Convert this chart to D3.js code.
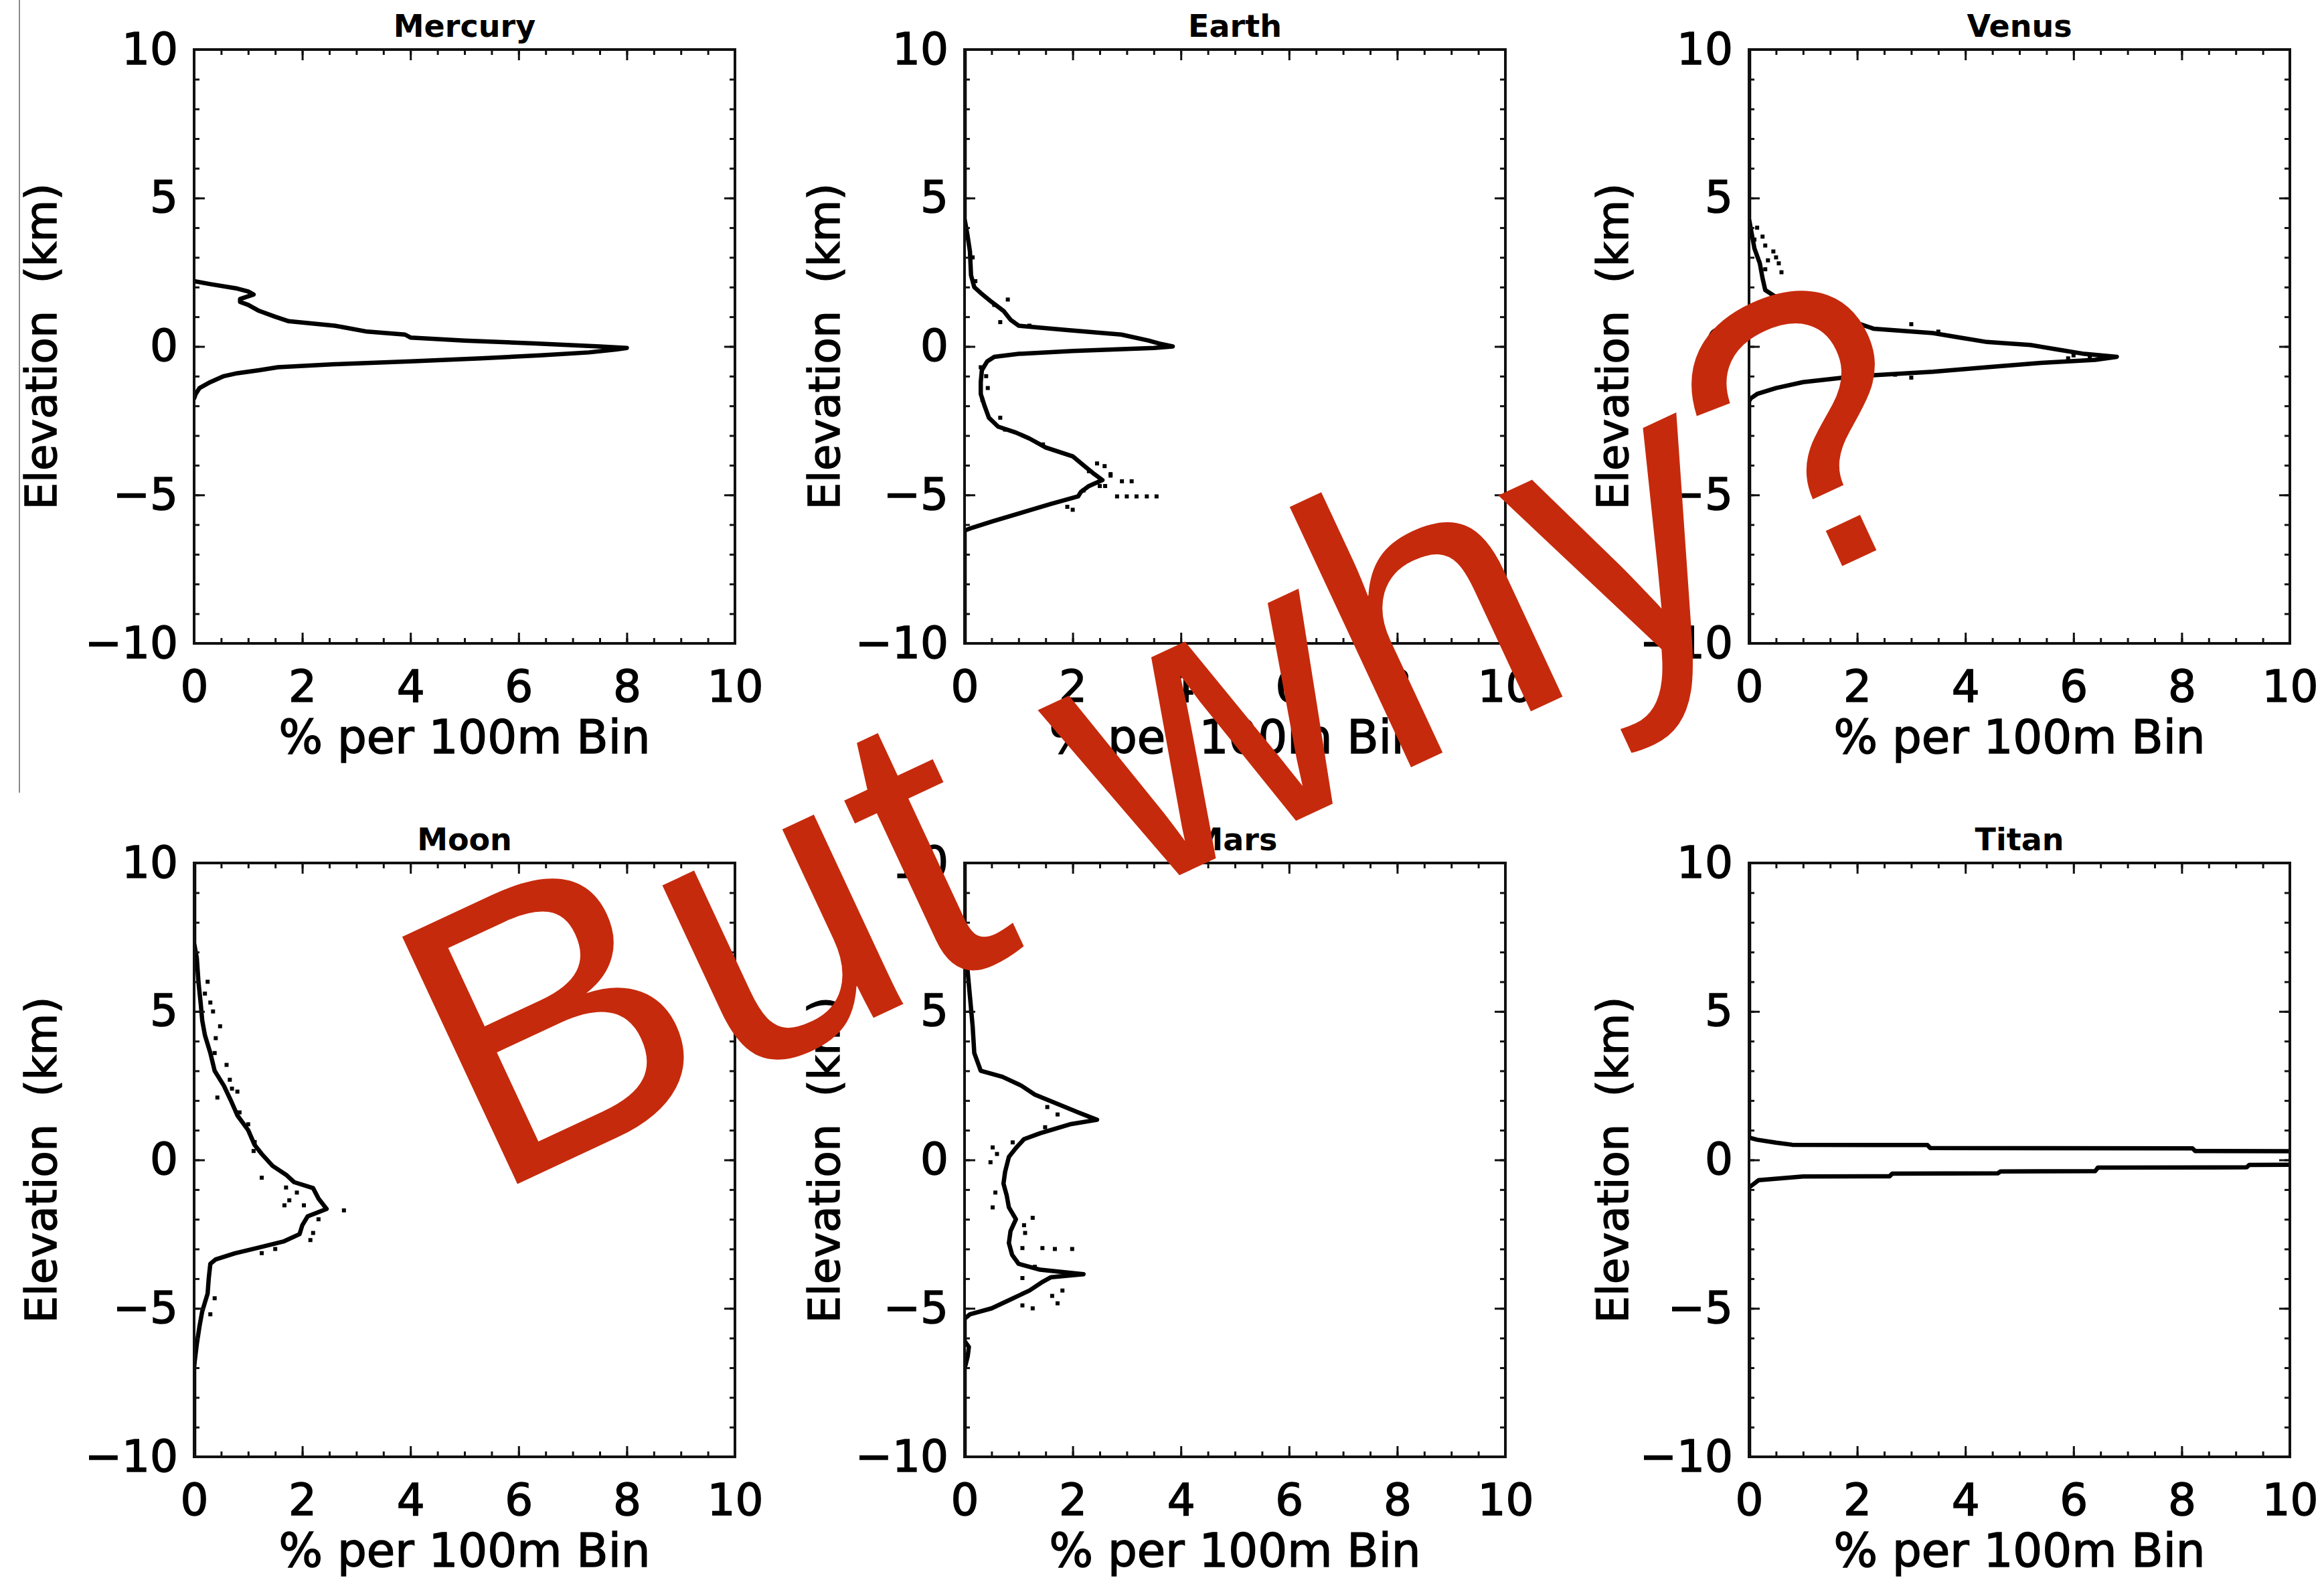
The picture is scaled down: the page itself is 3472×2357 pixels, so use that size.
<!DOCTYPE html>
<html><head><meta charset="utf-8">
<script src="https://cdn.jsdelivr.net/npm/d3@7"></script>
<style>html,body{margin:0;padding:0;background:#fff}svg{display:block}</style>
</head><body>
<script>
// ---------- DATA ----------
const panelNames = ["Mercury", "Earth", "Venus", "Moon", "Mars", "Titan"];
const xTickValues = [0, 2, 4, 6, 8, 10];
const yTickValues = [-10, -5, 0, 5, 10];
const xTitle = "% per 100m Bin";
const yTitle = "Elevation  (km)";
const overlayText = "But why?";

const mercuryElev = [2.2, 2.1, 1.95, 1.85, 1.75, 1.6, 1.5, 1.4, 1.2, 1.0, 0.85, 0.7, 0.5, 0.4, 0.3, 0.2, 0.1, 0.0, -0.05, -0.1, -0.2, -0.3, -0.4, -0.5, -0.6, -0.7, -0.8, -0.9, -1.0, -1.2, -1.4, -1.6, -1.75];
const mercuryPct  = [0, 0.3, 0.8, 1.0, 1.1, 0.85, 0.85, 1.0, 1.2, 1.5, 1.75, 2.6, 3.2, 3.9, 4.0, 5.0, 6.3, 7.5, 8.0, 7.8, 7.3, 6.4, 5.3, 4.0, 2.6, 1.55, 1.2, 0.8, 0.55, 0.3, 0.1, 0.03, 0];

const earthElev = [10, 4.3, 3.8, 3.2, 2.4, 2.0, 1.8, 1.5, 1.2, 0.9, 0.7, 0.55, 0.4, 0.2, 0.1, 0.0, -0.05, -0.15, -0.25, -0.35, -0.5, -0.8, -1.2, -1.6, -2.0, -2.4, -2.7, -2.9, -3.1, -3.4, -3.7, -4.0, -4.3, -4.5, -4.7, -4.9, -5.05, -5.3, -5.6, -5.9, -6.1, -6.2, -10];
const earthPct  = [0, 0, 0.05, 0.1, 0.12, 0.18, 0.3, 0.5, 0.72, 0.85, 1.0, 1.9, 2.9, 3.4, 3.6, 3.85, 3.5, 2.0, 1.0, 0.55, 0.42, 0.32, 0.3, 0.3, 0.37, 0.45, 0.62, 0.95, 1.2, 1.5, 2.0, 2.2, 2.4, 2.55, 2.3, 2.15, 2.1, 1.6, 1.05, 0.5, 0.15, 0, 0];
const earthDotElev = [1.58, 1.4, 0.82, 0.7, -0.7, -1.0, -1.4, -1.8, -2.4, -2.8, -3.3, -3.94, -4.03, -4.2, -4.35, -4.54, -4.54, -4.7, -4.85, -5.05, -5.05, -5.05, -5.05, -5.05, -5.4, -5.5, -4.3, -4.7, 3.0, 2.2];
const earthDotPct  = [0.8, 0.55, 0.66, 1.2, 0.3, 0.4, 0.43, 0.33, 0.66, 0.75, 1.45, 2.45, 2.59, 2.3, 2.7, 2.91, 3.09, 2.5, 2.2, 2.82, 3.0, 3.18, 3.37, 3.55, 1.9, 2.0, 2.7, 2.6, 0.15, 0.2];

const venusElev = [10, 4.3, 3.8, 3.3, 2.8, 2.3, 1.9, 1.6, 1.35, 1.1, 0.85, 0.6, 0.45, 0.3, 0.15, 0.05, -0.1, -0.25, -0.35, -0.45, -0.55, -0.7, -0.85, -1.0, -1.2, -1.4, -1.6, -1.75, -1.85, -10];
const venusPct  = [0, 0, 0.05, 0.1, 0.2, 0.25, 0.3, 0.55, 0.9, 1.3, 1.9, 2.3, 3.4, 3.9, 4.4, 5.2, 5.7, 6.2, 6.8, 6.4, 5.4, 4.4, 3.4, 2.0, 1.0, 0.5, 0.15, 0.03, 0, 0];
const venusDotElev = [4.0, 3.7, 3.4, 3.2, 3.0, 2.8, 2.6, 2.5, 3.6, 2.9, 0.75, 0.5, -0.3, -0.35, -0.4, -0.95, -1.05];
const venusDotPct  = [0.15, 0.25, 0.3, 0.45, 0.5, 0.55, 0.3, 0.6, 0.1, 0.35, 3.0, 3.5, 6.0, 6.3, 5.9, 2.7, 3.0];

const moonElev = [10, 7.3, 6.8, 6.0, 5.3, 4.7, 4.2, 3.6, 3.0, 2.5, 2.0, 1.5, 1.0, 0.5, 0.2, -0.2, -0.5, -0.75, -0.95, -1.3, -1.65, -1.9, -2.2, -2.5, -2.75, -2.95, -3.15, -3.35, -3.5, -4.0, -4.5, -4.8, -5.1, -5.6, -6.2, -6.8, -7.0, -10];
const moonPct  = [0, 0, 0.05, 0.08, 0.12, 0.15, 0.2, 0.3, 0.38, 0.55, 0.68, 0.8, 1.0, 1.12, 1.25, 1.45, 1.7, 1.85, 2.2, 2.3, 2.45, 2.1, 2.0, 1.95, 1.65, 1.2, 0.75, 0.4, 0.3, 0.27, 0.25, 0.2, 0.15, 0.1, 0.05, 0.01, 0, 0];
const moonDotElev = [6.0, 5.6, 5.0, 4.5, 4.1, 3.6, 3.2, 2.7, 2.4, 2.1, 1.6, 1.2, 0.6, 0.3, -0.6, -0.93, -1.1, -1.36, -1.53, -1.53, -1.7, -2.0, -2.46, -2.7, -3.14, -3.0, -4.66, -5.2, 5.3, 2.3];
const moonDotPct  = [0.25, 0.2, 0.35, 0.48, 0.4, 0.38, 0.6, 0.66, 0.7, 0.43, 0.84, 1.0, 1.12, 1.1, 1.25, 1.7, 1.9, 1.76, 1.67, 2.03, 2.77, 2.3, 2.2, 2.15, 1.25, 1.5, 0.38, 0.3, 0.3, 0.8];

const marsElev = [10, 7.5, 6.5, 5.5, 4.5, 3.6, 3.0, 2.8, 2.5, 2.2, 1.9, 1.6, 1.35, 1.2, 0.9, 0.7, 0.4, 0.1, -0.4, -0.8, -1.2, -1.6, -2.0, -2.4, -2.8, -3.2, -3.5, -3.7, -3.85, -3.95, -4.1, -4.4, -4.7, -5.0, -5.2, -5.35, -6.1, -6.3, -6.6, -6.9, -7.0, -10];
const marsPct  = [0, 0, 0.05, 0.1, 0.15, 0.18, 0.3, 0.7, 1.05, 1.3, 1.7, 2.1, 2.45, 1.95, 1.4, 1.1, 0.95, 0.82, 0.75, 0.72, 0.78, 0.82, 0.95, 0.85, 0.82, 0.88, 1.0, 1.4, 2.2, 1.6, 1.45, 1.2, 0.85, 0.5, 0.1, 0, 0, 0.08, 0.06, 0.02, 0, 0];
const marsDotElev = [0.42, -0.08, -1.1, -1.6, -1.95, -2.46, -2.97, -2.97, -3.0, -3.0, -3.98, -4.4, -4.58, -4.83, -5.0, -4.9, 1.78, 1.53, 1.1, 0.59, 5.0, 0.2, -2.2, -3.6];
const marsDotPct  = [0.52, 0.48, 0.57, 0.52, 1.26, 1.12, 1.07, 1.44, 1.67, 1.99, 1.07, 1.81, 1.62, 1.72, 1.26, 1.07, 1.53, 1.72, 1.49, 0.89, 0.12, 0.6, 1.1, 1.3];

const titanElev = [10, 0.75, 0.68, 0.58, 0.51, 0.5, 0.4, 0.39, 0.3, 0.29, 0.15, 0.0, -0.1, -0.16, -0.17, -0.25, -0.26, -0.38, -0.39, -0.45, -0.46, -0.55, -0.56, -0.68, -0.93, -10];
const titanPct  = [0, 0, 0.15, 0.5, 0.8, 3.3, 3.35, 8.2, 8.25, 10.5, 18, 22, 16, 10.5, 9.25, 9.2, 6.45, 6.4, 4.65, 4.6, 2.65, 2.6, 1.0, 0.18, 0, 0];

// ---------- LAYOUT ----------
const W = 3472, H = 2357;
const colLeft = [290, 1441, 2613];
const rowTop = [74, 1289];
const pw = 808, ph = 887;
const yTitleX = [60, 1230, 2408];

const series = [
  {elev: mercuryElev, pct: mercuryPct, dE: [], dP: []},
  {elev: earthElev, pct: earthPct, dE: earthDotElev, dP: earthDotPct},
  {elev: venusElev, pct: venusPct, dE: venusDotElev, dP: venusDotPct},
  {elev: moonElev, pct: moonPct, dE: moonDotElev, dP: moonDotPct},
  {elev: marsElev, pct: marsPct, dE: marsDotElev, dP: marsDotPct},
  {elev: titanElev, pct: titanPct, dE: [], dP: []}
];

const svg = d3.select("body").append("svg").attr("width", W).attr("height", H);
svg.append("rect").attr("width", W).attr("height", H).attr("fill", "#fff");

// thin gray vertical line at left
svg.append("line").attr("x1", 29).attr("x2", 29).attr("y1", 0).attr("y2", 1184)
  .attr("stroke", "#8a8a8a").attr("stroke-width", 2);

const font = "'DejaVu Sans', sans-serif";
const labelSize = 66;

panelNames.forEach((name, i) => {
  const col = i % 3, row = Math.floor(i / 3);
  const left = colLeft[col], top = rowTop[row];
  const x = d3.scaleLinear().domain([0, 10]).range([0, pw]);
  const y = d3.scaleLinear().domain([-10, 10]).range([ph, 0]);
  const g = svg.append("g").attr("transform", `translate(${left},${top})`);

  const clipId = "clip" + i;
  g.append("clipPath").attr("id", clipId).append("rect")
    .attr("x", 0).attr("y", 0).attr("width", pw).attr("height", ph);

  const s = series[i];
  const pts = s.elev.map((e, k) => [s.pct[k], e]);
  const line = d3.line().x(d => x(d[0])).y(d => y(d[1]));
  const pg = g.append("g").attr("clip-path", `url(#${clipId})`);
  pg.append("path").attr("d", line(pts)).attr("fill", "none")
    .attr("stroke", "#000").attr("stroke-width", 6.5)
    .attr("stroke-linejoin", "round").attr("stroke-linecap", "round");
  const dots = s.dE.map((e, k) => [s.dP[k], e]);
  pg.selectAll("rect.dot").data(dots).enter().append("rect").attr("class", "dot")
    .attr("x", d => x(d[0]) - 3).attr("y", d => y(d[1]) - 3)
    .attr("width", 6).attr("height", 6).attr("fill", "#000");

  // axes (inward ticks)
  const minorX = d3.range(0, 10.001, 0.5);
  const minorY = d3.range(-10, 10.001, 1);
  const styleAxis = sel => {
    sel.select(".domain").remove();
    sel.selectAll(".tick line").attr("stroke", "#111").attr("stroke-width", 3);
    sel.selectAll("text").attr("font-family", font).attr("font-size", labelSize)
      .attr("fill", "#000").attr("stroke", "#000").attr("stroke-width", 1.5);
  };
  g.append("g").attr("transform", `translate(0,${ph})`)
    .call(d3.axisBottom(x).tickValues(minorX).tickSize(-8).tickFormat("")).call(styleAxis);
  g.append("g").attr("transform", `translate(0,${ph})`)
    .call(d3.axisBottom(x).tickValues(xTickValues).tickSize(-16).tickPadding(40).tickFormat(d3.format("d"))).call(styleAxis);
  g.append("g")
    .call(d3.axisTop(x).tickValues(minorX).tickSize(-8).tickFormat("")).call(styleAxis);
  g.append("g")
    .call(d3.axisTop(x).tickValues(xTickValues).tickSize(-16).tickFormat("")).call(styleAxis);
  g.append("g")
    .call(d3.axisLeft(y).tickValues(minorY).tickSize(-8).tickFormat("")).call(styleAxis);
  g.append("g")
    .call(d3.axisLeft(y).tickValues(yTickValues).tickSize(-16).tickPadding(24).tickFormat(d3.format("d"))).call(styleAxis);
  g.append("g").attr("transform", `translate(${pw},0)`)
    .call(d3.axisRight(y).tickValues(minorY).tickSize(-8).tickFormat("")).call(styleAxis);
  g.append("g").attr("transform", `translate(${pw},0)`)
    .call(d3.axisRight(y).tickValues(yTickValues).tickSize(-16).tickFormat("")).call(styleAxis);

  // frame
  g.append("rect").attr("width", pw).attr("height", ph).attr("fill", "none")
    .attr("stroke", "#111").attr("stroke-width", 4);

  // title
  g.append("text").attr("x", pw / 2).attr("y", -19).attr("text-anchor", "middle")
    .attr("font-family", font).attr("font-weight", "bold").attr("font-size", 46)
    .attr("fill", "#000").text(name);

  // x title
  g.append("text").attr("x", pw / 2).attr("y", ph + 164).attr("text-anchor", "middle")
    .attr("font-family", font).attr("font-size", 69).attr("fill", "#000")
    .attr("stroke", "#000").attr("stroke-width", 1.5).text(xTitle);

  // y title
  const yx = yTitleX[col] - left + 24;
  g.append("text").attr("transform", `translate(${yx},${ph / 2}) rotate(-90)`)
    .attr("text-anchor", "middle").attr("font-family", font).attr("font-size", 64)
    .attr("fill", "#000").attr("stroke", "#000").attr("stroke-width", 1.5)
    .attr("xml:space", "preserve").style("white-space", "pre").text(yTitle);
});

// overlay text
svg.append("text").attr("x", 729).attr("y", 1789)
  .attr("transform", "rotate(-25,729,1789)")
  .attr("font-family", "'Liberation Sans', Arial, sans-serif")
  .attr("font-size", 592).attr("fill", "#c62a0c").text(overlayText);
</script>
</body></html>
